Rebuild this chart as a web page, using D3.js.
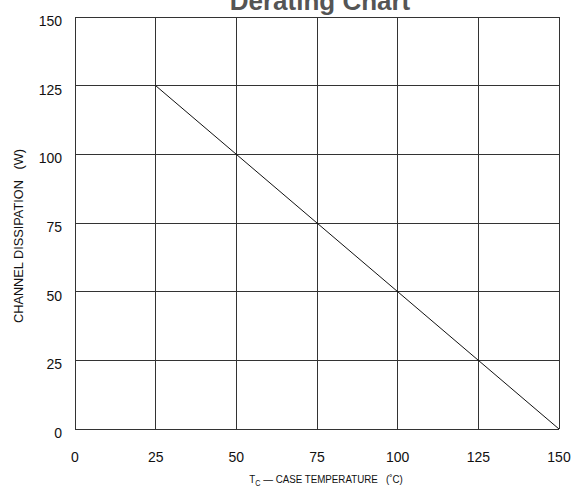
<!DOCTYPE html>
<html><head><meta charset="utf-8">
<script src="https://cdn.jsdelivr.net/npm/d3@7"></script>
<style>body{margin:0;background:#fff}svg{display:block}text{font-family:"Liberation Sans",Arial,sans-serif}</style>
</head><body>
<script>
const xTicks = [0, 25, 50, 75, 100, 125, 150];
const yTicks = [0, 25, 50, 75, 100, 125, 150];
const tempC = [25, 150];
const powerW = [125, 0];
const title = "Derating Chart";

const W = 573, H = 491;
const m = {l: 75, r: 14, t: 17, b: 62};
const svg = d3.select("body").append("svg").attr("width", W).attr("height", H);
const x = d3.scaleLinear().domain([0, 150]).range([m.l, W - m.r]);
const y = d3.scaleLinear().domain([0, 150]).range([H - m.b, m.t]);

const g = svg.append("g");
g.selectAll(".vx").data(xTicks).join("line")
  .attr("x1", d => x(d)).attr("x2", d => x(d)).attr("y1", y(0)).attr("y2", y(150))
  .attr("stroke", "#333").attr("stroke-width", 1).attr("shape-rendering", "crispEdges");
g.selectAll(".hy").data(yTicks).join("line")
  .attr("y1", d => y(d)).attr("y2", d => y(d)).attr("x1", x(0)).attr("x2", x(150))
  .attr("stroke", "#333").attr("stroke-width", 1).attr("shape-rendering", "crispEdges");

svg.selectAll(".xl").data(xTicks).join("text")
  .attr("x", d => x(d)).attr("y", y(0) + 33).attr("text-anchor", "middle")
  .attr("font-size", 14).attr("fill", "#111").text(d => d);
svg.selectAll(".yl").data(yTicks).join("text")
  .attr("x", x(0) - 13).attr("y", d => y(d) + 9).attr("text-anchor", "end")
  .attr("font-size", 14).attr("fill", "#111").text(d => d);

const pts = tempC.map((t, i) => [t, powerW[i]]);
svg.append("path").datum(pts)
  .attr("d", d3.line().x(d => x(d[0])).y(d => y(d[1])))
  .attr("fill", "none").attr("stroke", "#111").attr("stroke-width", 1);

svg.append("text").attr("x", 320).attr("y", 9.5).attr("text-anchor", "middle")
  .attr("font-size", 26).attr("font-weight", "bold").attr("fill", "#555").text(title);

const xt = svg.append("text").attr("transform", "translate(326,483) scale(0.85,1)")
  .attr("text-anchor", "middle").attr("font-size", 11.5).attr("fill", "#111");
xt.append("tspan").text("T");
xt.append("tspan").attr("font-size", 8.5).attr("dy", 3).text("C");
xt.append("tspan").attr("dy", -3).text("\u00a0\u2014 CASE TEMPERATURE\u00a0\u00a0\u00a0(\u02daC)");

svg.append("text").attr("transform", "translate(23,236) rotate(-90)").attr("text-anchor", "middle")
  .attr("font-size", 12.75).attr("fill", "#111")
  .text("CHANNEL DISSIPATION\u00a0\u00a0\u00a0(W)");
</script>
</body></html>
